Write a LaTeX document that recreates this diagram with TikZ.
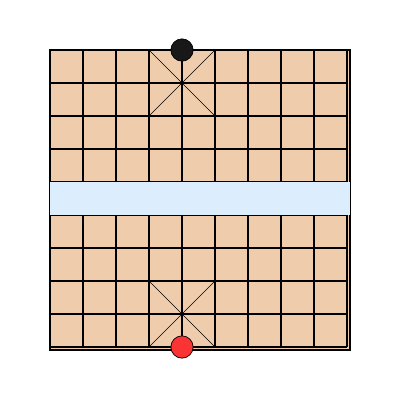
\documentclass[tikz,border=0pt]{standalone}
\usepackage{tikz}

\definecolor{boardtan}{RGB}{238,204,172}
\definecolor{riverblue}{RGB}{220,238,254}
\definecolor{piecered}{RGB}{250,52,52}
\definecolor{pieceblack}{RGB}{24,24,24}

\tikzset{
    gridline/.style={black, line width=0.7pt},
    palaceline/.style={black, line width=0.4pt},
    piece/.style={circle, draw=black, line width=0.5pt, minimum size=0.54cm, inner sep=0pt}
}

\begin{document}
\begin{tikzpicture}[x=0.8cm, y=-0.8cm]
    \useasboundingbox (-1.5152, -1.5152) rectangle (10.6061, 10.6061);

    % Board
    \fill[boardtan] (0, 0) rectangle (9.0909, 9.0909);
    \draw[black, line width=1.4pt] (0, 0) rectangle (9.0909, 9.0909);

    % Grid
    \foreach \i in {0,...,9} {
        \draw[gridline] (\i, 0) -- (\i, 9);
        \draw[gridline] (0, \i) -- (9, \i);
    }

    % River
    \fill[riverblue] (0, 4) rectangle (9.0909, 5);

    % Palaces
    \draw[palaceline] (3, 0) -- (5, 2);
    \draw[palaceline] (5, 0) -- (3, 2);
    \draw[palaceline] (3, 7) -- (5, 9);
    \draw[palaceline] (5, 7) -- (3, 9);

    % Generals
    \node[piece, fill=pieceblack] (blackgeneral) at (4, 0) {};
    \node[piece, fill=piecered] (redgeneral) at (4, 9) {};
\end{tikzpicture}
\end{document}
